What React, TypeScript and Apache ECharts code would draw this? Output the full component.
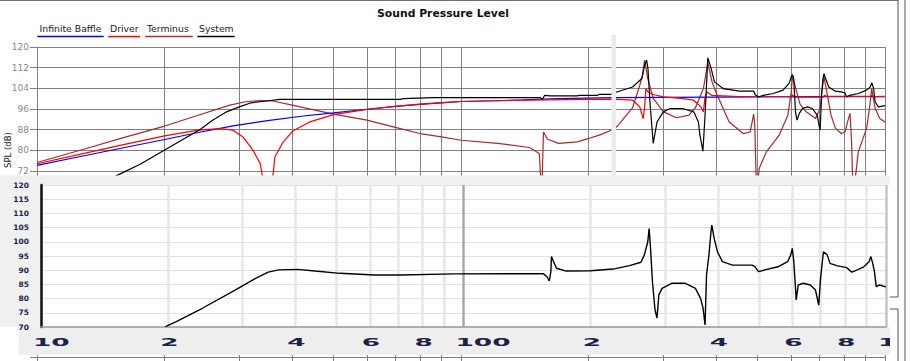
import React, { useEffect, useRef } from 'react';
import * as echarts from 'echarts';

// ---------- data ----------
const freqTicks = [10, 20, 30, 40, 50, 60, 70, 80, 90, 100, 200, 300, 400, 500, 600, 700, 800, 900, 1000];
const bottomLabelValues = [10, 20, 40, 60, 80, 100, 200, 400, 600, 800, 1000];
const bottomLabelTexts = ['10', '2', '4', '6', '8', '100', '2', '4', '6', '8', '1'];
const legendNames = ['Infinite Baffle', 'Driver', 'Terminus', 'System'];
const seriesColors = ['#0000ff', '#ff0000', '#a52a2a', '#000000'];

const infiniteBaffle: [number, number][] = [
  [10, 74.2], [13, 78.0], [16, 81.0], [20, 84.2], [24, 86.9], [29, 89.5], [35, 91.5], [42, 93.2],
  [50, 94.5], [60, 95.9], [70, 97.0], [80, 97.8], [90, 98.4], [100, 98.9], [120, 99.2], [140, 99.5],
  [170, 100.0], [230, 100.4], [300, 100.5], [400, 100.6], [500, 100.7], [700, 100.8], [1000, 100.8],
];

const driver: [number, number][] = [
  [10, 74.8], [13, 78.9], [16, 82.2], [20, 85.6], [24, 87.8], [27, 88.4], [29, 87.8], [30.6, 85.2],
  [32.3, 80.1], [33.6, 74.9], [34.5, 64], [35.1, 52], [35.7, 64], [36.4, 77.5], [38.1, 83.3],
  [40.2, 87.6], [44, 91.0], [50, 93.8], [55, 94.9], [60, 95.8], [70, 97.0], [80, 97.9], [90, 98.5],
  [100, 98.9], [130, 99.3], [175, 99.6], [230, 99.8], [254, 99.4], [264, 96.8], [269, 92.3],
  [271, 96.5], [273, 103.9], [276, 102.6], [284, 101.6], [300, 100.7], [330, 100.1], [354, 99.4],
  [368, 96.8], [373, 94.9], [376, 100.1], [380, 102.6], [390, 101.3], [454, 100.8], [600, 100.9],
  [605, 101.4], [612, 100.6], [715, 100.6], [720, 101.3], [728, 100.9], [925, 100.9], [932, 101.4],
  [940, 100.8], [1000, 100.9],
];

const terminus: [number, number][] = [
  [10, 75.3], [13, 80.6], [16, 84.9], [20, 89.4], [24, 93.6], [28.5, 97.5], [31, 98.8], [34, 99.3],
  [36, 99.1], [40, 97.5], [50, 94.0], [60, 91.7], [70, 88.9], [80, 86.5], [90, 85.2], [100, 83.9],
  [122, 82.7], [145, 81.1], [153, 78.8], [155, 62], [156.5, 87.1], [160, 84.3], [170, 82.7],
  [188, 83.3], [200, 84.6], [212, 85.9], [226, 87.8], [233, 89.1], [254, 96.5], [264, 105.2],
  [268, 109], [271, 114.9], [276, 107.5], [284, 100.1], [300, 95.0], [322, 92.6], [345, 93.6],
  [358, 96.8], [373, 103.9], [382, 114.0], [391, 106.5], [399, 102.6], [429, 91.0], [463, 86.5],
  [481, 87.1], [490, 94.0], [493, 89.7], [498, 62], [505, 73.0], [525, 79.4], [563, 85.9],
  [590, 93.6], [601, 102.6], [605, 109.0], [616, 103.9], [630, 98.0], [652, 94.9], [686, 92.3],
  [703, 96.2], [709, 102.6], [718, 108.4], [729, 102.6], [746, 93.6], [764, 88.5], [789, 86.5],
  [805, 87.1], [816, 91.0], [827, 94.3], [834, 83.3], [841, 62], [865, 79.4], [905, 88.5],
  [923, 98.7], [930, 103.9], [948, 96.2], [972, 92.3], [1000, 91.0],
];

const systemResp: [number, number][] = [
  [10, 54], [12.5, 62], [15.5, 70.4], [17.6, 74.8], [20, 80.1], [24.2, 88.0], [26, 91.7], [28, 94.9],
  [30, 96.8], [32, 98.4], [34.8, 99.1], [37.4, 99.7], [55, 99.7], [72, 99.7], [73, 100.0], [86, 100.4],
  [154, 100.4], [155.6, 99.7], [157.5, 101.3], [162, 101.1], [188, 101.1], [190, 101.3], [210, 101.3],
  [212, 101.7], [226, 101.7], [233, 102.6], [254, 104.5], [267, 107.8], [271, 112.9], [274, 114.9],
  [276, 111.7], [279, 98.7], [284, 82.7], [290, 91.0], [300, 94.9], [311, 96.2], [333, 96.2],
  [354, 94.9], [363, 91.0], [366, 85.9], [372, 79.7], [376, 92.3], [380, 107.8], [382, 115.8],
  [389, 111.7], [396, 106.5], [415, 103.9], [454, 102.9], [490, 102.9], [495, 101.3], [505, 100.7],
  [516, 101.3], [545, 102.0], [575, 103.3], [594, 105.9], [601, 108.4], [605, 109.3], [609, 107.8],
  [615, 94.9], [620, 91.7], [628, 94.3], [639, 96.2], [656, 96.8], [674, 96.2], [692, 93.6],
  [699, 89.7], [703, 87.8], [709, 101.3], [714, 107.8], [718, 109.7], [724, 107.8], [737, 104.5],
  [763, 102.9], [789, 102.6], [805, 102.2], [811, 100.7], [826, 101.3], [865, 102.0], [905, 103.3],
  [923, 104.5], [931, 106.2], [940, 103.9], [948, 98.7], [965, 96.8], [1000, 97.3],
];

const measured: [number, number][] = [
  [19.7, 70.1], [20.9, 71.9], [24.1, 76.6], [28.8, 83.0], [32.2, 87.1], [34.5, 89.3], [36.5, 90.1],
  [40.5, 90.3], [44.5, 89.7], [51, 88.9], [61.6, 88.3], [71, 88.3], [95, 88.7], [154.5, 88.8],
  [157.6, 87.7], [159.6, 86.2], [161, 89.5], [161.5, 94.8], [163, 93.3], [166, 90.7], [175, 89.7],
  [200, 89.8], [226, 90.4], [247, 91.6], [263, 92.8], [268, 95.4], [273, 100], [275, 104.7],
  [277, 98.3], [280, 86], [284, 76], [287, 73.1], [290, 81.3], [295, 83.6], [311, 85.4], [335, 85.4],
  [354, 83.6], [364, 80.1], [369, 76.6], [373, 70.7], [376, 88.3], [381, 95.4], [385, 103],
  [387, 105.9], [392, 101.2], [399, 96.5], [410, 93], [433, 91.8], [482, 91.8], [490, 91.2],
  [499, 89.5], [517, 90.1], [555, 91.2], [585, 93], [595, 95.4], [600, 97.7], [605, 93], [610, 84.8],
  [613, 79.5], [620, 84.8], [637, 85.4], [662, 84.8], [681, 83], [693, 77.7], [700, 87.1], [711, 96.5],
  [726, 95.4], [737, 92.4], [764, 91.6], [807, 90.9], [830, 89.3], [855, 90.1], [886, 91.2], [912, 93],
  [921, 94.8], [930, 92.4], [939, 89.5], [948, 84.2], [966, 84.8], [994, 84.2], [1000, 84.2],
];

// ---------- styles ----------
const FONT = 'DejaVu Sans';
const bottomSplitColors = freqTicks.map((v) => (v === 100 ? '#a8a8a8' : v === 1000 ? '#c4c4c4' : '#e6e6e6'));

const legendLayout = [
  { tx: 39.5, ux: 37.3, uw: 66.4 },
  { tx: 110, ux: 108.3, uw: 31.7 },
  { tx: 147, ux: 145.3, uw: 47.4 },
  { tx: 199, ux: 197.3, uw: 37.4 },
];

function buildOption(): any {
  const topSeriesData = [infiniteBaffle, driver, terminus, systemResp];
  const order = [2, 0, 1, 3];
  const topSeries = order.map((i) => ({
    name: legendNames[i],
    type: 'line',
    xAxisIndex: 0,
    yAxisIndex: 0,
    data: topSeriesData[i],
    showSymbol: false,
    symbol: 'none',
    lineStyle: { color: seriesColors[i], width: 1.2 },
    itemStyle: { color: seriesColors[i] },
    z: 2,
    silent: true,
  }));

  const legendGraphics: any[] = [];
  legendNames.forEach((name, i) => {
    const l = legendLayout[i];
    legendGraphics.push({
      type: 'text',
      x: l.tx,
      y: 28.5,
      style: { text: name, fill: '#222', fontFamily: FONT, fontSize: 9.3, align: 'left', verticalAlign: 'middle' },
      z: 5,
    });
    legendGraphics.push({
      type: 'rect',
      shape: { x: l.ux, y: 35.8, width: l.uw, height: 1.5 },
      style: { fill: seriesColors[i] === '#a52a2a' ? '#b03030' : seriesColors[i] },
      z: 5,
    });
  });

  return {
    animation: false,
    backgroundColor: '#ffffff',
    title: {
      text: 'Sound Pressure Level',
      left: 438,
      top: 3,
      textAlign: 'center',
      textStyle: { fontFamily: FONT, fontWeight: 'bold', fontSize: 10.8, color: '#111' },
    },
    grid: [
      { left: 37, top: 47, width: 848, height: 310, show: false },
      { left: 41, top: 185, width: 845, height: 142, show: false, z: 20 },
    ],
    xAxis: [
      {
        type: 'log',
        gridIndex: 0,
        logBase: 10,
        min: 10,
        max: 1000,
        axisLine: { show: true, lineStyle: { color: '#808080' } },
        axisTick: { show: true, length: 5, customValues: freqTicks, lineStyle: { color: '#808080' } },
        axisLabel: { show: false },
        splitLine: { show: true, lineStyle: { color: '#808080', width: 1 } },
      },
      {
        type: 'log',
        gridIndex: 1,
        logBase: 10,
        min: 10,
        max: 1000,
        z: 20,
        axisLine: { show: true, lineStyle: { color: '#9a9a9a', width: 1.5 } },
        axisTick: { show: false, customValues: freqTicks },
        axisLabel: { show: false },
        splitLine: { show: true, lineStyle: { color: bottomSplitColors, width: 2.5 } },
      },
    ],
    yAxis: [
      {
        type: 'value',
        gridIndex: 0,
        min: 0,
        max: 120,
        interval: 8,
        axisLine: { show: true, lineStyle: { color: '#808080' } },
        axisTick: { show: true, length: 7, lineStyle: { color: '#808080' } },
        axisLabel: {
          color: '#8a8a8a',
          fontFamily: FONT,
          fontSize: 9,
          margin: 8,
          formatter: (v: number) => (v >= 72 ? String(v) : ''),
        },
        splitLine: { show: true, lineStyle: { color: '#808080', width: 1 } },
      },
      {
        type: 'value',
        gridIndex: 1,
        min: 70,
        max: 120,
        interval: 5,
        z: 20,
        axisLine: { show: true, lineStyle: { color: '#111111', width: 2.5 } },
        axisTick: { show: false },
        axisLabel: { color: '#1b2348', fontFamily: FONT, fontWeight: 'bold', fontSize: 7.5, margin: 12 },
        splitLine: { show: true, lineStyle: { color: '#e2e2e2', width: 1 } },
      },
    ],
    series: [
      ...topSeries,
      {
        name: 'Measured',
        type: 'line',
        xAxisIndex: 1,
        yAxisIndex: 1,
        data: measured,
        showSymbol: false,
        symbol: 'none',
        lineStyle: { color: '#000', width: 1.4 },
        z: 30,
        silent: true,
      },
      {
        type: 'custom',
        xAxisIndex: 1,
        yAxisIndex: 1,
        clip: false,
        silent: true,
        z: 30,
        data: bottomLabelValues.map((v) => [v, 70]),
        renderItem: (params: any, api: any) => {
          const p = api.coord([api.value(0), 70]);
          return {
            type: 'text',
            x: p[0] - 8,
            y: p[1] + 15.5,
            scaleX: 2.4,
            style: {
              text: bottomLabelTexts[params.dataIndex],
              fill: '#1b2348',
              fontFamily: FONT,
              fontWeight: 'bold',
              fontSize: 11,
              align: 'left',
              verticalAlign: 'middle',
            },
          };
        },
      },
    ],
    graphic: [
      { type: 'line', shape: { x1: 0, y1: 0.5, x2: 898, y2: 0.5 }, style: { stroke: '#6e6e6e', lineWidth: 1 }, z: 5 },
      ...legendGraphics,
      {
        type: 'text',
        x: 8,
        y: 150,
        rotation: Math.PI / 2,
        style: { text: 'SPL (dB)', fill: '#222', fontFamily: FONT, fontSize: 8.5, align: 'center', verticalAlign: 'middle' },
        z: 5,
      },
      { type: 'rect', shape: { x: 611.5, y: 35, width: 4.5, height: 141 }, style: { fill: '#ebebeb' }, z: 9 },
      { type: 'rect', shape: { x: 0, y: 175.5, width: 890, height: 151.5 }, style: { fill: '#f0f0f0' }, z: 10 },
      { type: 'rect', shape: { x: 19, y: 327, width: 871, height: 28 }, style: { fill: '#eeeeee' }, z: 10 },
      { type: 'rect', shape: { x: 41, y: 185, width: 849, height: 142 }, style: { fill: '#ffffff' }, z: 11 },
      { type: 'rect', shape: { x: 890, y: 327, width: 7, height: 28 }, style: { fill: '#ffffff' }, z: 40 },
      { type: 'polyline', shape: { points: [[898, 0], [898, 297], [890, 297]] }, style: { stroke: '#555', fill: null, lineWidth: 1 }, z: 41 },
      { type: 'polyline', shape: { points: [[890, 309], [898, 309], [898, 361]] }, style: { stroke: '#555', fill: null, lineWidth: 1 }, z: 41 },
      { type: 'line', shape: { x1: 905, y1: 0, x2: 905, y2: 361 }, style: { stroke: '#555', lineWidth: 1 }, z: 41 },
    ],
  };
}

export default function App() {
  const ref = useRef<HTMLDivElement>(null);
  useEffect(() => {
    document.body.style.margin = '0';
    const chart = echarts.init(ref.current as HTMLDivElement, null, { renderer: 'svg' });
    chart.setOption(buildOption());
    return () => {
      chart.dispose();
    };
  }, []);
  return <div ref={ref} style={{ width: 911, height: 361 }} />;
}
